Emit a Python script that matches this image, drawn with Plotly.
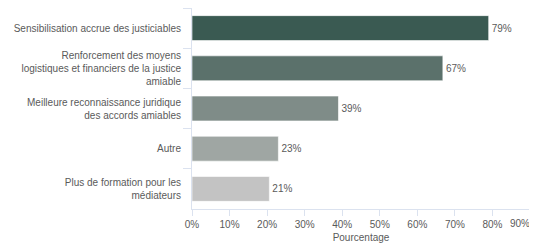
import plotly.graph_objects as go

categories = [
    "Sensibilisation accrue des justiciables",
    "Renforcement des moyens<br>logistiques et financiers de la justice<br>amiable",
    "Meilleure reconnaissance juridique<br>des accords amiables",
    "Autre",
    "Plus de formation pour les<br>médiateurs",
]
values = [0.79, 0.668, 0.39, 0.23, 0.206]
bar_colors = ["#3a5a52", "#5b716b", "#7f8c88", "#9fa6a3", "#c3c3c3"]
tick_values = [0, 0.1, 0.2, 0.3, 0.4, 0.5, 0.6, 0.7, 0.8, 0.9]
tick_labels = ["0%", "10%", "20%", "30%", "40%", "50%", "60%", "70%", "80%", "90%"]

FONT = "Liberation Sans, Arial, sans-serif"
TXT = "#5a5a5a"
AXIS = "#dbe2ef"

fig = go.Figure(
    go.Bar(
        x=values,
        y=categories,
        orientation="h",
        marker=dict(color=bar_colors, line=dict(color="rgba(255,255,255,0.6)", width=1)),
        text=values,
        texttemplate="%{x:.0%}",
        textposition="outside",
        textfont=dict(size=10, color=TXT, family=FONT),
        cliponaxis=False,
        width=0.62,
    )
)

# the page body has an 8px default margin, so the figure is 8px smaller
fig.update_layout(
    width=529,
    height=239,
    margin=dict(l=184, r=7, t=0, b=38),
    plot_bgcolor="white",
    paper_bgcolor="white",
    showlegend=False,
    font=dict(family=FONT, size=10, color=TXT),
)

# last tick label is drawn right-aligned to its tick so it stays inside the page
shown_labels = tick_labels[:-1] + [""]
fig.add_annotation(
    x=tick_values[-1], xref="x", y=0, yref="paper",
    text=tick_labels[-1], showarrow=False,
    xanchor="right", yanchor="top", yshift=-7, xshift=2,
    font=dict(size=10, color=TXT, family=FONT),
)

fig.update_xaxes(
    range=[0, 0.9],
    tickvals=tick_values,
    ticktext=shown_labels,
    showgrid=False,
    zeroline=False,
    showline=True,
    linecolor=AXIS,
    linewidth=1,
    ticks="outside",
    ticklen=6,
    tickcolor=AXIS,
    tickfont=dict(size=10, color=TXT),
    automargin=False,
    title=dict(text="Pourcentage", font=dict(size=10, color=TXT), standoff=4),
)

fig.update_yaxes(
    autorange="reversed",
    showgrid=False,
    showline=True,
    linecolor=AXIS,
    linewidth=1,
    ticks="outside",
    ticklen=8,
    tickcolor=AXIS,
    tickson="boundaries",
    ticklabelstandoff=8,
    tickfont=dict(size=10, color=TXT),
    automargin=False,
)

fig.write_html("out.html")
